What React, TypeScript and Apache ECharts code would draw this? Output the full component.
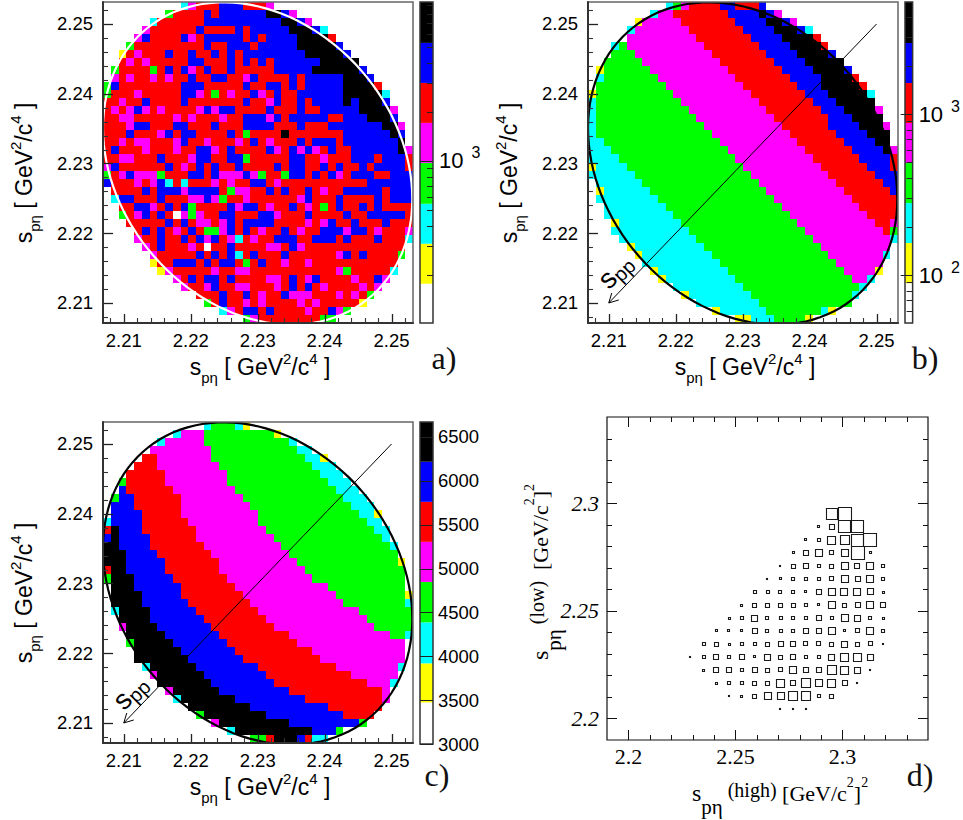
import React, { useEffect, useRef } from "react";
import * as echarts from "echarts";

// ---------- colour levels (shared by the three histograms) ----------
const LEVEL_COLORS = ["#ffffff", "#ffff00", "#00ffff", "#00ff00", "#ff00ff", "#ff0000", "#0000ff", "#000000"];
const LEVEL_CODES = "WYCGMRBK";

// ---------- panel a: bin levels by row, run-length coded, top row first ----------
const panelARows = [
  "10. C M 3R 3B 3R M",
  "8. G 4R B R 6B 2K B M",
  "6. C 6R 10B 2K B M",
  "5. M 6R B 4R B R 5B 3K B C",
  "4. M B 4R B M R 5B R B R 4B 4K R",
  "3. G 9R B 2R 3B R 5B 5K B",
  "2. Y R M 3R B 2R B 2R B R B R 8B 5K B",
  "2. R M R M 5R 2B 3R B R B R B R 6B 5K",
  "1. G 4R G R B R B M R B 2R B 5R 5B 6K B",
  "1. M R M 2R M R M 2R B 2R 2B 2R M B 4R B R 5B 3K B",
  "G B 8R 3B 5R B 2R 2B R B R 5B 4K R",
  "G 3R M 5R 2B M R G R M 2R B M R B 2R 6B 5K C",
  "2R M 2R B 4R B 7R B 2R M B 2R B R 4B K B 3K B",
  "R M R M B M R M 4R M B M 2B 4R B 3R B 2R 5B 4K M",
  "2R 2M 5R M R M 3R M 2R 3B M B R 5B 2R 3B 3K B",
  "3R M 2B 3R 2B 3R B 3R 4B 3R B 3R 7B 2K M",
  "3R B 3R M B R 2B 4R B R G 4R K 7R 6B K B",
  "2R M R 2M 3R M B 2R M 3R M R B R M 3R B R 3B R 7B K",
  "R B 3R M 3R M 2R 2B M R B 4R B M R B M B M R B 2R 6B K M",
  "2R 2M 3R B 3R M 2B 2R 2B G 5R 2B 2R M 3R 3B R 3B R",
  "M B 6R B R M R B R B 2R B 4R B R 2B 2R B R B 2R B R 4B R",
  "G R M B 3M G 3R 2B R B 3M B M G 2R G 2B R B R B M R 3B 2R 3B",
  "B 3R M R M B C R C 3R M R M 2R 2B R M 11R 6B",
  "1. 4R B R 3B M 4B R G 2M 2R B R B 2R B R M 2R 5B R 3B",
  "1. C 2B 3R B 3R 2M B M G 2R M 6R M B 3R B 4R B R 3B",
  "2. 2R 2B M R B R B G 4R B M 2B R M 2R B R M R G R B 2R B R B 4R",
  "2. G R M B R B R W M G M 2R 2B 3R 2B M 3R B 4R B 2R 5B R",
  "3. 5R B R B R 2M R M B R 4B 4R M R M B 2R B 3R B 3R",
  "4. R B R B R M R B R 2G M B R B R M 2R B R M 2R 3B M 2B R M 3R M",
  "4. M 2R B 2R B R B M B R M C R M 2R 3B 2R 3B R B 3R B 3R C",
  "5. M R B 3R M R W 2R B 4R 2M R B M 13R",
  "6. M 5R B R B R B C R B 3R B 6R M B R B 4R G",
  "6. Y 2R 3B R B R 2B R G R B 2R M 2R M 11R",
  "7. Y M 5R M 2R 2M 11R M G 5R C",
  "9. M R B R 2B R B 4R 2M R B R M B 4R M 2R B M",
  "10. M 2R M B 2R 2M 3R M R B R B R M 4R M R M",
  "12. 3R B 2R B R M 2R B 3M 3R M R M R G",
  "13. G R B 2R M R M 4R M R M 5R Y",
  "15. C M R 2B R B 4R M 2R B M G",
  "18. G M 8R 2G",
];

// ---------- panel b: first/last filled bin per row and band starts ----------
const bFirst = [10, 8, 6, 5, 5, 3, 3, 2, 1, 1, 1, 0, 0, 0, 0, 0, 0, 0, 0, 0, 0, 0, 1, 1, 1, 2, 2, 3, 3, 4, 5, 6, 7, 8, 9, 11, 12, 14, 16, 19];
const bLast = [22, 24, 26, 28, 29, 30, 31, 32, 33, 34, 35, 36, 36, 37, 37, 38, 38, 38, 39, 39, 39, 39, 39, 39, 39, 39, 39, 39, 39, 39, 38, 38, 37, 37, 36, 35, 34, 33, 31, 28];
const bGreen = [0, 0, 0, 0, 0, 0, 0, 0, 0, 0, 0, 0, 1, 1, 1, 1, 1, 2, 3, 4, 5, 6, 7, 8, 9, 10, 11, 12, 13, 14, 15, 16, 17, 18, 19, 20, 21, 22, 23, 24];
const bMagenta = [12, 9, 7, 6, 5, 5, 6, 7, 8, 9, 10, 11, 12, 13, 14, 15, 16, 17, 18, 19, 20, 21, 22, 23, 24, 25, 26, 27, 28, 29, 30, 31, 32, 33, 34, 35, 36, 37, 38, 39];
const bRed = [13, 11, 12, 13, 14, 15, 16, 17, 18, 19, 20, 21, 22, 23, 24, 25, 26, 27, 28, 29, 30, 31, 32, 33, 34, 35, 36, 37, 38, 39, 40, 41, 42, 43, 44, 45, 46, 47, 48, 49];
const bBlue = [17, 18, 19, 20, 21, 22, 23, 24, 25, 26, 27, 28, 29, 30, 31, 31, 32, 33, 34, 35, 36, 37, 38, 39, 40, 40, 40, 40, 40, 40, 40, 40, 40, 40, 40, 40, 40, 40, 40, 40];
const bBlack = [40, 22, 23, 24, 25, 26, 27, 28, 29, 30, 30, 31, 32, 33, 34, 35, 36, 37, 38, 40, 40, 40, 40, 40, 40, 40, 40, 40, 40, 40, 40, 40, 40, 40, 40, 40, 40, 40, 40, 40];
// isolated edge bins: [column, row, code]
const bEdgeBins: [number, number, string][] = [
  [10, 0, "C"], [11, 0, "G"], [19, 0, "R"], [20, 0, "R"], [21, 0, "R"], [8, 1, "C"], [23, 1, "B"], [24, 1, "M"],
  [6, 2, "Y"], [25, 2, "B"], [26, 2, "M"], [5, 3, "C"], [27, 3, "B"], [28, 3, "C"], [29, 4, "R"], [3, 5, "C"],
  [30, 5, "R"], [31, 6, "B"], [1, 8, "Y"], [33, 8, "B"], [1, 9, "C"], [34, 9, "R"], [35, 10, "R"], [0, 11, "Y"],
  [36, 11, "C"], [37, 13, "M"], [38, 15, "M"], [39, 18, "M"], [39, 19, "R"], [0, 20, "Y"], [39, 20, "R"],
  [1, 23, "Y"], [3, 27, "Y"], [39, 27, "M"], [39, 28, "G"], [39, 29, "C"], [5, 30, "Y"], [6, 31, "Y"], [38, 31, "C"],
  [8, 33, "Y"], [37, 33, "Y"], [9, 34, "Y"], [36, 34, "C"], [35, 35, "C"], [12, 36, "Y"], [34, 36, "C"],
  [16, 38, "Y"], [30, 38, "C"], [31, 38, "Y"], [19, 39, "Y"], [20, 39, "Y"], [28, 39, "Y"],
];

// ---------- panel c: first/last filled bin per row and band starts ----------
const cFirst = [13, 9, 7, 6, 5, 4, 3, 2, 2, 1, 1, 1, 0, 0, 0, 0, 0, 0, 0, 0, 1, 1, 1, 1, 2, 2, 3, 3, 4, 4, 5, 6, 7, 8, 9, 11, 12, 14, 16, 19];
const cLast = [18, 22, 24, 26, 28, 29, 30, 31, 32, 33, 34, 35, 35, 36, 36, 37, 37, 38, 38, 38, 38, 39, 39, 39, 39, 39, 39, 38, 38, 38, 38, 37, 37, 36, 36, 35, 34, 33, 30, 28];
const cBlue = [0, 0, 0, 0, 0, 0, 0, 0, 0, 0, 0, 0, 0, 2, 2, 2, 3, 3, 3, 4, 4, 5, 5, 6, 6, 7, 8, 9, 10, 11, 12, 13, 14, 15, 17, 19, 21, 24, 27, 25];
const cRed = [0, 0, 0, 0, 0, 0, 0, 0, 3, 4, 4, 5, 5, 5, 6, 6, 7, 8, 8, 9, 10, 10, 11, 12, 13, 14, 15, 16, 17, 18, 20, 21, 22, 24, 26, 29, 31, 40, 40, 26];
const cMagenta = [0, 0, 0, 0, 7, 7, 8, 8, 9, 10, 10, 10, 11, 12, 12, 13, 14, 15, 15, 16, 17, 18, 19, 20, 21, 22, 24, 25, 27, 28, 30, 32, 34, 36, 36, 40, 40, 40, 40, 40];
const cGreen = [13, 13, 13, 14, 14, 15, 16, 16, 17, 18, 19, 20, 20, 21, 22, 23, 24, 25, 26, 27, 29, 30, 31, 33, 34, 35, 37, 40, 40, 40, 40, 40, 40, 40, 40, 40, 40, 40, 40, 40];
const cCyan = [17, 40, 24, 25, 26, 27, 28, 29, 30, 31, 32, 33, 34, 35, 36, 37, 40, 40, 40, 40, 40, 40, 40, 40, 40, 40, 40, 40, 40, 40, 40, 40, 40, 40, 40, 40, 40, 40, 40, 40];
const cEdgeBins: [number, number, string][] = [
  [13, 0, "C"], [18, 0, "Y"], [9, 1, "C"], [22, 1, "Y"], [7, 2, "C"], [28, 4, "Y"], [2, 7, "G"], [1, 9, "G"], [35, 11, "Y"],
  [0, 12, "C"], [0, 13, "R"], [0, 14, "B"], [38, 17, "Y"], [0, 18, "R"], [0, 19, "G"], [39, 21, "Y"], [39, 22, "C"],
  [1, 23, "C"], [2, 25, "M"], [39, 26, "C"], [3, 27, "G"], [5, 30, "C"], [38, 30, "C"], [6, 31, "M"], [37, 32, "C"],
  [8, 33, "M"], [9, 34, "C"], [12, 36, "G"], [14, 37, "M"], [33, 37, "G"], [16, 38, "C"], [30, 38, "G"],
  [19, 39, "G"], [20, 39, "G"], [21, 39, "R"], [27, 39, "C"], [28, 39, "C"],
];

// ---------- panel d: box contents per row (top first) on the s(high)/s(low) bin centres ----------
const dColumns = [2.2288, 2.2348, 2.2408, 2.2468, 2.2528, 2.2588, 2.2648, 2.2708, 2.2768, 2.2828, 2.2888, 2.2948, 2.3008, 2.3068, 2.3128, 2.3188];
const dRowsCentres = [2.2952, 2.2892, 2.2831, 2.2771, 2.271, 2.265, 2.259, 2.2529, 2.2469, 2.2408, 2.2348, 2.2287, 2.2227, 2.2167, 2.2106, 2.2046];
const dContents = [
  [0, 0, 0, 0, 0, 0, 0, 0, 0, 0, 0, 32, 38, 0, 0, 0],
  [0, 0, 0, 0, 0, 0, 0, 0, 0, 0, 6, 15, 36, 36, 0, 0],
  [0, 0, 0, 0, 0, 0, 0, 0, 0, 7, 8, 24, 26, 36, 38, 0],
  [0, 0, 0, 0, 0, 0, 0, 0, 6, 16, 20, 13, 20, 38, 7, 0],
  [0, 0, 0, 0, 0, 0, 0, 3, 12, 16, 10, 12, 20, 16, 22, 8],
  [0, 0, 0, 0, 0, 0, 4, 6, 9, 8, 9, 12, 20, 14, 20, 10],
  [0, 0, 0, 0, 0, 8, 9, 10, 9, 7, 14, 20, 22, 22, 18, 5],
  [0, 0, 0, 0, 6, 12, 11, 11, 11, 8, 7, 22, 12, 14, 22, 14],
  [0, 0, 0, 5, 8, 17, 10, 8, 9, 10, 16, 9, 20, 17, 8, 5],
  [0, 0, 7, 7, 7, 14, 10, 8, 10, 14, 14, 20, 7, 13, 22, 10],
  [0, 8, 12, 6, 8, 8, 11, 14, 14, 13, 13, 12, 18, 12, 13, 3],
  [4, 8, 14, 8, 14, 7, 18, 12, 15, 8, 10, 18, 24, 24, 18, 0],
  [0, 6, 16, 16, 10, 16, 12, 13, 22, 16, 16, 26, 24, 18, 3, 0],
  [0, 0, 6, 10, 10, 12, 12, 24, 15, 28, 22, 24, 14, 4, 0, 0],
  [0, 0, 0, 3, 6, 12, 20, 20, 28, 28, 10, 12, 0, 0, 0, 0],
  [0, 0, 0, 0, 0, 0, 0, 3, 2, 4, 0, 0, 0, 0, 0, 0],
];

// ---------- axes ----------
const sTicksMajor = [2.21, 2.22, 2.23, 2.24, 2.25];
const sTicksMinor = [2.208, 2.212, 2.214, 2.216, 2.218, 2.222, 2.224, 2.226, 2.228, 2.232, 2.234, 2.236, 2.238, 2.242, 2.244, 2.246, 2.248, 2.252];
const dTicksMajor = [2.2, 2.25, 2.3];
const dTicksMinor = [2.21, 2.22, 2.23, 2.24, 2.26, 2.27, 2.28, 2.29, 2.31, 2.32, 2.33];
const barATicksMajor = [1000];
const barATicksMinor = [200, 300, 400, 500, 600, 700, 800, 900, 2000, 3000, 4000, 5000, 6000, 7000, 8000, 9000];
const barBTicksMajor = [100, 1000];
const barBTicksMinor = [60, 70, 80, 90, 200, 300, 400, 500, 600, 700, 800, 900, 2000, 3000, 4000];
const barCTicks = [3000, 3500, 4000, 4500, 5000, 5500, 6000, 6500];
const barAEdges = [101, 176, 310, 545, 972, 1710, 3010, 5300, 9450];
const barBEdges = [50.4, 89, 158, 280, 496, 879, 1557, 2760, 4960];
const barCEdges = [3000, 3474, 3919, 4387, 4847, 5304, 5760, 6217, 6670];

// Dalitz boundary: centre, half extents, correlation
const ellipseCentre = 2.23;
const ellipseHalfX = 0.0231;
const ellipseHalfY = 0.0231;
const ellipseCorrelation = -0.22;
const arrowEnds = [[2.25, 2.25], [2.21, 2.21]];

const X_MIN = 2.2069, X_MAX = 2.2532, Y_MIN = 2.20713, Y_MAX = 2.25315;
const D_MIN = 2.19, D_MAX = 2.34;
const BINS = 40;
const BIN_W = (X_MAX - X_MIN) / BINS, BIN_H = (Y_MAX - Y_MIN) / BINS;

const SANS = "'Liberation Sans', Arial, sans-serif";
const SERIF = "'Liberation Serif', 'Times New Roman', serif";

function binItem(col: number, row: number, level: number) {
  return [X_MIN + col * BIN_W, Y_MAX - (row + 1) * BIN_H, level];
}
function binsFromRuns(rows: string[]) {
  const out: number[][] = [];
  rows.forEach((line, r) => {
    let c = 0;
    line.split(" ").forEach((tok) => {
      const code = tok[tok.length - 1];
      const n = tok.length > 1 ? parseInt(tok, 10) : 1;
      for (let k = 0; k < n; k++, c++) if (code !== ".") out.push(binItem(c, r, LEVEL_CODES.indexOf(code)));
    });
  });
  return out;
}
function binsFromBands(first: number[], last: number[], starts: number[][], levels: number[], edge: [number, number, string][]) {
  const over = new Map(edge.map(([c, r, k]) => [c + r * 100, LEVEL_CODES.indexOf(k)]));
  const out: number[][] = [];
  first.forEach((f, r) => {
    for (let c = f; c <= last[r]; c++) {
      let lev = levels[0];
      starts.forEach((s, i) => { if (c >= s[r]) lev = levels[i + 1]; });
      const o = over.get(c + r * 100);
      out.push(binItem(c, r, o === undefined ? lev : o));
    }
  });
  edge.forEach(([c, r, k]) => { if (c < first[r] || c > last[r]) out.push(binItem(c, r, LEVEL_CODES.indexOf(k))); });
  return out;
}

const renderBin = (_: any, api: any) => {
  const x = api.value(0), y = api.value(1);
  const a = api.coord([x, y + BIN_H]);
  const b = api.coord([x + BIN_W, y]);
  const x0 = Math.round(a[0]), y0 = Math.round(a[1]);
  return { type: "rect", shape: { x: x0, y: y0, width: Math.round(b[0]) - x0, height: Math.round(b[1]) - y0 }, style: { fill: LEVEL_COLORS[api.value(2)] } };
};
const renderBarSegment = (_: any, api: any) => {
  const a = api.coord([0, api.value(2)]);
  const b = api.coord([1, api.value(1)]);
  return { type: "rect", shape: { x: a[0], y: a[1], width: b[0] - a[0], height: b[1] - a[1] }, style: { fill: LEVEL_COLORS[api.value(3)] } };
};
const renderFrame = (x0: number, x1: number, y0: number, y1: number, stroke: string, lineWidth: number) => (_: any, api: any) => {
  const a = api.coord([x0, y1]);
  const b = api.coord([x1, y0]);
  return { type: "rect", shape: { x: a[0], y: a[1], width: b[0] - a[0], height: b[1] - a[1] }, style: { fill: "none", stroke, lineWidth } };
};
const renderBox = (_: any, api: any) => {
  const p = api.coord([api.value(0), api.value(1)]);
  const side = Math.max(1, api.value(2) / 3);
  return { type: "rect", shape: { x: Math.round(p[0] - side / 2) + 0.5, y: Math.round(p[1] - side / 2) + 0.5, width: Math.round(side), height: Math.round(side) }, style: { fill: "none", stroke: "#1a1a1a", lineWidth: 1.1 } };
};
const renderEllipse = (color: string) => (_: any, api: any) => {
  const pts: number[][] = [];
  for (let t = 0; t <= 360; t += 3) {
    const r = (t * Math.PI) / 180;
    pts.push(api.coord([
      ellipseCentre + ellipseHalfX * Math.cos(r),
      ellipseCentre + ellipseHalfY * Math.sin(r + Math.asin(ellipseCorrelation)),
    ]));
  }
  return { type: "polyline", shape: { points: pts }, style: { fill: "none", stroke: color, lineWidth: 2.2 } };
};
const renderArrow = (_: any, api: any) => {
  const a = api.coord(arrowEnds[0]);
  const b = api.coord(arrowEnds[1]);
  return {
    type: "group",
    children: [
      { type: "line", shape: { x1: a[0], y1: a[1], x2: b[0], y2: b[1] }, style: { stroke: "#000", lineWidth: 1 } },
      { type: "polyline", shape: { points: [[b[0] + 10, b[1] - 3], [b[0], b[1]], [b[0] + 3, b[1] - 10]] }, style: { fill: "none", stroke: "#000", lineWidth: 1 } },
    ],
  };
};
// dx,dy: pixel direction and length of the tick from its anchor on the frame
const renderTick = (dx: number, dy: number, stroke: string, lineWidth: number) => (_: any, api: any) => {
  const p = api.coord([api.value(0), api.value(1)]);
  const x = dx ? p[0] : Math.round(p[0]) + 0.5;
  const y = dy ? p[1] : Math.round(p[1]) + 0.5;
  return { type: "line", shape: { x1: x, y1: y, x2: x + dx, y2: y + dy }, style: { stroke, lineWidth } };
};

function axis(o: any) {
  const { grid, pos, min, max, labels, lineShow, color, margin, fontFamily, fontSize, fontStyle, formatter, rich, type } = o;
  return {
    type: type || "value",
    gridIndex: grid,
    position: pos,
    min,
    max,
    scale: true,
    silent: true,
    z: 5,
    splitLine: { show: false },
    minorTick: { show: false },
    axisLine: { show: !!lineShow, onZero: false, lineStyle: { color: color || "#333", width: 2 } },
    axisTick: { show: false },
    axisLabel: labels
      ? { show: true, customValues: labels, margin, fontFamily, fontSize, fontStyle, color: "#000", formatter, rich, hideOverlap: false, showMinLabel: true, showMaxLabel: true }
      : { show: false },
  };
}

const mainTitle = "{s|s}{sub|p\u03b7}{n| [ GeV}{sup|2}{n|/c}{sup|4}{n| ]}";
const mainRich = {
  s: { fontFamily: SANS, fontSize: 23, lineHeight: 36, verticalAlign: "middle", fill: "#000" },
  n: { fontFamily: SANS, fontSize: 23, lineHeight: 36, verticalAlign: "middle", fill: "#000" },
  sub: { fontFamily: SANS, fontSize: 15, height: 16, lineHeight: 16, verticalAlign: "bottom", fill: "#000" },
  sup: { fontFamily: SANS, fontSize: 15, height: 18, lineHeight: 18, verticalAlign: "top", fill: "#000" },
};
const sppRich = {
  s: { fontFamily: SANS, fontSize: 28, lineHeight: 30, verticalAlign: "middle", fill: "#000" },
  p: { fontFamily: SANS, fontSize: 20, height: 18, lineHeight: 18, verticalAlign: "bottom", fill: "#000" },
};
const dRich = {
  s: { fontFamily: SERIF, fontSize: 24, lineHeight: 46, verticalAlign: "middle", fill: "#000" },
  n: { fontFamily: SERIF, fontSize: 22, lineHeight: 46, verticalAlign: "middle", fill: "#000" },
  sub: { fontFamily: SERIF, fontSize: 21, height: 18, lineHeight: 18, verticalAlign: "bottom", fill: "#000" },
  up: { fontFamily: SERIF, fontSize: 20, height: 40, lineHeight: 40, verticalAlign: "top", fill: "#000" },
  sup: { fontFamily: SERIF, fontSize: 14, height: 24, lineHeight: 24, verticalAlign: "top", fill: "#000" },
};

function richText(text: string, rich: any, x: number, y: number, rotation = 0) {
  return { type: "text", x, y, rotation, silent: true, style: { text, rich, align: "center", verticalAlign: "middle", fill: "#000" } };
}
function panelLetter(text: string, x: number, y: number) {
  return { type: "text", x, y, silent: true, style: { text, fontFamily: SERIF, fontSize: 32, fill: "#111", align: "center", verticalAlign: "middle" } };
}

function ticks(gi: number, dim: "x" | "y", values: number[], anchor: number, dx: number, dy: number, color: string, w: number) {
  return {
    type: "custom", xAxisIndex: gi, yAxisIndex: gi, silent: true, clip: false, z: 4,
    data: values.map((v) => (dim === "x" ? [v, anchor] : [anchor, v])),
    renderItem: renderTick(dx, dy, color, w), encode: { x: 0, y: 1 },
  };
}

function buildOption() {
  const grids = [
    { left: 103, top: 2, width: 310, height: 321 },
    { left: 588, top: 2, width: 310, height: 321 },
    { left: 103, top: 422, width: 310, height: 321 },
    { left: 607, top: 417, width: 321, height: 323 },
    { left: 420, top: 2, width: 13, height: 321 },
    { left: 905, top: 2, width: 12, height: 321 },
    { left: 420, top: 422, width: 13, height: 322 },
  ].map((g) => ({ ...g, show: false }));

  const xAxis: any[] = [];
  const yAxis: any[] = [];
  const sFmt = (v: number) => v.toFixed(2);
  [0, 1, 2].forEach((g) => {
    xAxis.push(axis({ grid: g, pos: "bottom", min: X_MIN, max: X_MAX, labels: sTicksMajor, lineShow: true, margin: 8, fontFamily: SANS, fontSize: 18.5, formatter: sFmt }));
    yAxis.push(axis({ grid: g, pos: "left", min: Y_MIN, max: Y_MAX, labels: sTicksMajor, lineShow: true, margin: 10, fontFamily: SANS, fontSize: 18.5, formatter: sFmt }));
  });
  const dFmt = (v: number) => String(Math.round(v * 100) / 100);
  xAxis.push(axis({ grid: 3, min: D_MIN, max: D_MAX, pos: "bottom", labels: dTicksMajor, margin: 5, fontFamily: SERIF, fontSize: 22, formatter: dFmt }));
  yAxis.push(axis({ grid: 3, min: D_MIN, max: D_MAX, pos: "left", labels: dTicksMajor, margin: 8, fontFamily: SERIF, fontSize: 22, fontStyle: "italic", formatter: dFmt }));
  [4, 5, 6].forEach((g) => xAxis.push({ type: "value", gridIndex: g, min: 0, max: 1, show: false }));
  const powFmt = (v: number) => `{m|10}{e|${Math.round(Math.log10(v))}}`;
  const powRich = {
    m: { fontFamily: SANS, fontSize: 22, lineHeight: 30, verticalAlign: "middle", color: "#000" },
    e: { fontFamily: SANS, fontSize: 16, height: 14, lineHeight: 14, verticalAlign: "top", color: "#000", padding: [0, 0, 0, 8] },
  };
  yAxis.push(axis({ type: "log", grid: 4, pos: "right", min: barAEdges[0], max: barAEdges[8], labels: barATicksMajor, margin: 6, formatter: powFmt, rich: powRich }));
  yAxis.push(axis({ type: "log", grid: 5, pos: "right", min: barBEdges[0], max: barBEdges[8], labels: barBTicksMajor, margin: 6, formatter: powFmt, rich: powRich }));
  yAxis.push(axis({ grid: 6, pos: "right", min: 3000, max: barCEdges[8], labels: barCTicks, margin: 5, fontFamily: SANS, fontSize: 18.5, formatter: (v: number) => String(v) }));

  const cells = (data: number[][], g: number) => ({
    type: "custom", xAxisIndex: g, yAxisIndex: g, data, renderItem: renderBin, silent: true, clip: true, progressive: 0, encode: { x: 0, y: 1 }, z: 2,
  });
  const over = (g: number, renderItem: any, z = 3, clip = true) => ({
    type: "custom", xAxisIndex: g, yAxisIndex: g, data: [[ellipseCentre, ellipseCentre]], renderItem, silent: true, clip, encode: { x: 0, y: 1 }, z,
  });
  const bar = (edges: number[], g: number) => ({
    type: "custom", xAxisIndex: g, yAxisIndex: g, silent: true, clip: true, z: 2,
    data: edges.slice(0, -1).map((e, i) => [0, e, edges[i + 1], i]), renderItem: renderBarSegment, encode: { x: 0, y: [1, 2] },
  });
  const barFrame = (edges: number[], g: number) => ({
    type: "custom", xAxisIndex: g, yAxisIndex: g, silent: true, clip: false, z: 4,
    data: [[0, edges[0]]], renderItem: renderFrame(0, 1, edges[0], edges[8], "#333", 1.5), encode: { x: 0, y: 1 },
  });
  const boxes: number[][] = [];
  dContents.forEach((row, j) => row.forEach((v, i) => { if (v > 0) boxes.push([dColumns[i], dRowsCentres[j], v]); }));

  const panelB = binsFromBands(bFirst, bLast, [bGreen, bMagenta, bRed, bBlue, bBlack], [2, 3, 4, 5, 6, 7], bEdgeBins);
  const panelC = binsFromBands(cFirst, cLast, [cBlue, cRed, cMagenta, cGreen, cCyan], [7, 6, 5, 4, 3, 2], cEdgeBins);

  const series: any[] = [
    cells(binsFromRuns(panelARows), 0),
    over(0, renderEllipse("#ffffff")),
    cells(panelB, 1),
    over(1, renderEllipse("#000000")),
    over(1, renderArrow),
    cells(panelC, 2),
    over(2, renderEllipse("#000000")),
    over(2, renderArrow),
    { type: "custom", xAxisIndex: 3, yAxisIndex: 3, data: boxes, renderItem: renderBox, silent: true, encode: { x: 0, y: 1 }, z: 2 },
    over(3, renderFrame(D_MIN, D_MAX, D_MIN, D_MAX, "#111", 1.2), 4, false),
    bar(barAEdges, 4), barFrame(barAEdges, 4),
    bar(barBEdges, 5), barFrame(barBEdges, 5),
    bar(barCEdges, 6), barFrame(barCEdges, 6),
  ];
  [0, 1, 2].forEach((g) => {
    series.push(over(g, renderFrame(X_MIN, X_MAX, Y_MIN, Y_MAX, "#666", 1.5), 4, false));
    series.push(ticks(g, "x", sTicksMajor, Y_MIN, 0, -9, "#222", 1.3));
    series.push(ticks(g, "x", sTicksMinor, Y_MIN, 0, -5, "#333", 1.1));
    series.push(ticks(g, "y", sTicksMajor, X_MIN, 10, 0, "#222", 1.3));
    series.push(ticks(g, "y", sTicksMinor, X_MIN, 5, 0, "#333", 1.1));
  });
  series.push(ticks(3, "x", dTicksMajor, D_MIN, 0, -10, "#111", 1));
  series.push(ticks(3, "x", dTicksMinor, D_MIN, 0, -5, "#111", 1));
  series.push(ticks(3, "x", dTicksMajor, D_MAX, 0, 10, "#111", 1));
  series.push(ticks(3, "x", dTicksMinor, D_MAX, 0, 5, "#111", 1));
  series.push(ticks(3, "y", dTicksMajor, D_MIN, 10, 0, "#111", 1));
  series.push(ticks(3, "y", dTicksMinor, D_MIN, 5, 0, "#111", 1));
  series.push(ticks(3, "y", dTicksMajor, D_MAX, -10, 0, "#111", 1));
  series.push(ticks(3, "y", dTicksMinor, D_MAX, -5, 0, "#111", 1));
  series.push(ticks(4, "y", barATicksMajor, 1, -13, 0, "#222", 1));
  series.push(ticks(4, "y", barATicksMinor, 1, -6, 0, "#222", 1));
  series.push(ticks(5, "y", barBTicksMajor, 1, -12, 0, "#222", 1));
  series.push(ticks(5, "y", barBTicksMinor, 1, -6, 0, "#222", 1));
  series.push(ticks(6, "y", barCTicks, 1, -13, 0, "#222", 1));

  return {
    animation: false,
    backgroundColor: "#fff",
    grid: grids,
    xAxis,
    yAxis,
    series,
    graphic: [
      richText(mainTitle, mainRich, 260, 367),
      richText(mainTitle, mainRich, 745, 367),
      richText(mainTitle, mainRich, 260, 787),
      richText(mainTitle, mainRich, 24, 173, Math.PI / 2),
      richText(mainTitle, mainRich, 509, 173, Math.PI / 2),
      richText(mainTitle, mainRich, 24, 593, Math.PI / 2),
      richText("{s|s}{p|pp}", sppRich, 615, 271, Math.PI / 4),
      richText("{s|s}{p|pp}", sppRich, 130, 692, Math.PI / 4),
      richText("{s|s}{sub|p\u03b7}{up| (high)}{n| [GeV/c}{sup|2}{n|]}{sup|2}", dRich, 780, 793),
      richText("{s|s}{sub|p\u03b7}{up| (low)}{n|  [GeV/c}{sup|2}{n|]}{sup|2}", dRich, 540, 572, Math.PI / 2),
      panelLetter("a)", 444, 358),
      panelLetter("b)", 925, 358),
      panelLetter("c)", 437, 775),
      panelLetter("d)", 920, 775),
    ],
  };
}

export default function App() {
  const ref = useRef<HTMLDivElement>(null);
  useEffect(() => {
    const chart = echarts.init(ref.current!, undefined, { renderer: "svg" });
    chart.setOption(buildOption() as any);
    return () => chart.dispose();
  }, []);
  return <div ref={ref} style={{ position: "absolute", left: 0, top: 0, width: 963, height: 820, background: "#fff" }} />;
}
